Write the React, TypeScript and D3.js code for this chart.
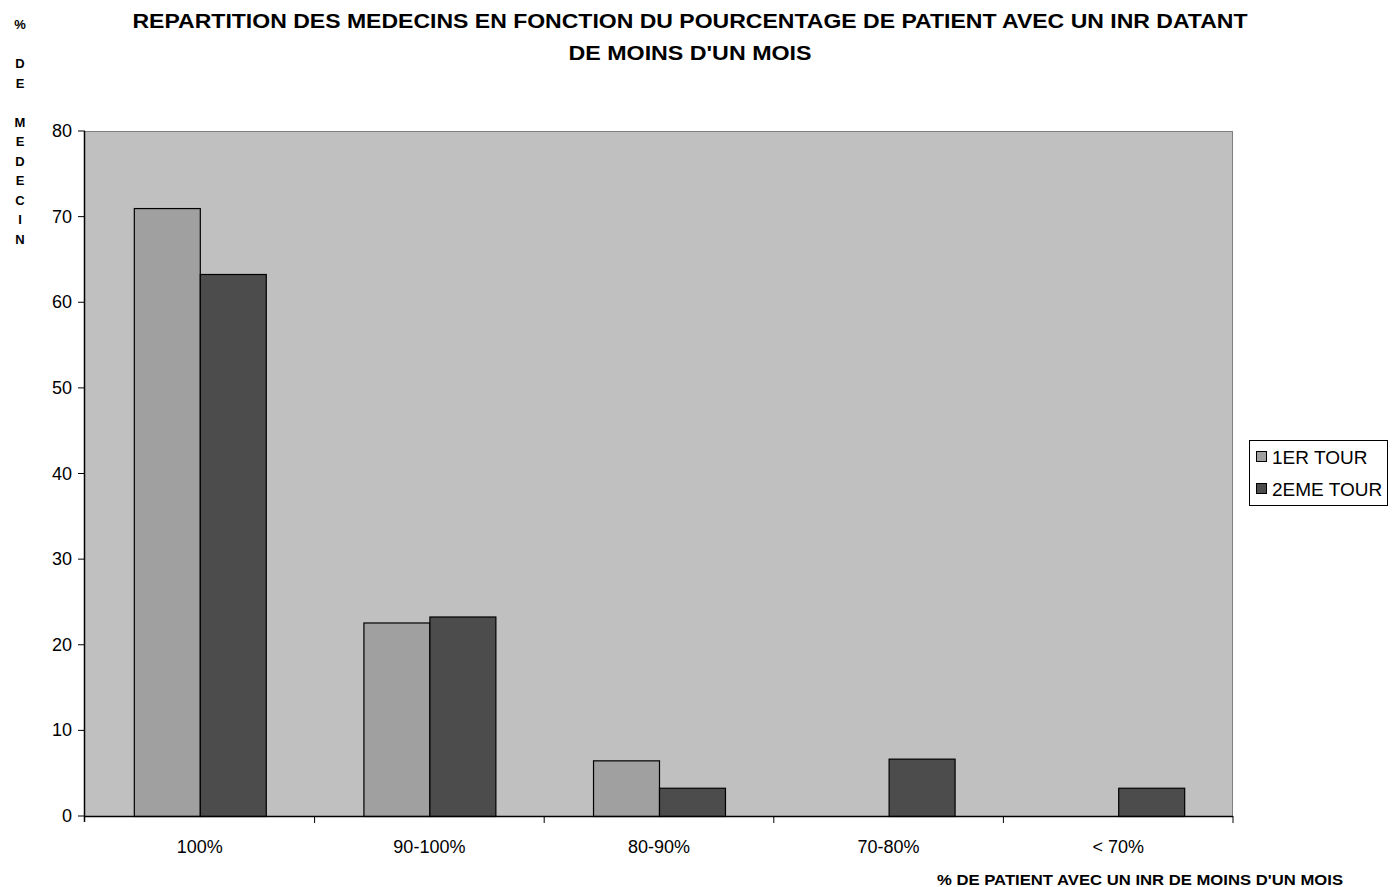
import React from "react";
import * as d3 from "d3";

const categories = ["100%", "90-100%", "80-90%", "70-80%", "< 70%"];
const seriesNames = ["1ER TOUR", "2EME TOUR"];
const tour1 = [71.0, 22.6, 6.5, 0, 0];
const tour2 = [63.3, 23.3, 3.3, 6.7, 3.3];
const yTicks = [0, 10, 20, 30, 40, 50, 60, 70, 80];
const titleLines = [
  "REPARTITION DES MEDECINS EN FONCTION DU POURCENTAGE DE PATIENT AVEC UN INR DATANT",
  "DE MOINS D'UN MOIS",
];
const titleWidths = [1115, 243];
const yTitleLines = ["%", "", "D", "E", "", "M", "E", "D", "E", "C", "I", "N"];
const xTitle = "% DE PATIENT AVEC UN INR DE MOINS D'UN MOIS";

const colors = ["#A0A0A0", "#4C4C4C"];
const W = 1394;
const H = 887;
const plot = { left: 85, right: 1233, top: 131, bottom: 816 };
const font = "'Liberation Sans', Arial, sans-serif";

export default function App() {
  const x0 = d3.scaleBand().domain(categories).range([plot.left, plot.right]).padding(0);
  const x1 = d3
    .scaleBand()
    .domain(seriesNames)
    .range([0, x0.bandwidth()])
    .paddingInner(0)
    .paddingOuter(0.74);
  const y = d3.scaleLinear().domain([0, 80]).range([plot.bottom, plot.top]);
  const data = [tour1, tour2];

  return (
    <svg
      width={W}
      height={H}
      style={{ position: "absolute", left: 0, top: 0, background: "#fff" }}
    >
      {/* title */}
      {titleLines.map((t, i) => (
        <text
          key={i}
          x={690}
          y={28 + i * 32}
          textAnchor="middle"
          fontFamily={font}
          fontWeight="bold"
          fontSize={21}
          textLength={titleWidths[i]}
          lengthAdjust="spacingAndGlyphs"
        >
          {t}
        </text>
      ))}
      {/* y title */}
      {yTitleLines.map((c, i) => (
        <text
          key={i}
          x={20}
          y={29 + i * 19.5}
          textAnchor="middle"
          fontFamily={font}
          fontWeight="900"
          fontSize={13}
        >
          {c}
        </text>
      ))}
      {/* plot area */}
      <rect
        x={plot.left}
        y={plot.top}
        width={plot.right - plot.left}
        height={plot.bottom - plot.top}
        fill="#C0C0C0"
      />
      <line x1={plot.left} x2={plot.right} y1={plot.top + 0.5} y2={plot.top + 0.5} stroke="#808080" />
      <line x1={plot.right - 0.5} x2={plot.right - 0.5} y1={plot.top} y2={plot.bottom} stroke="#808080" />
      {/* bars */}
      {data.map((vals, si) =>
        vals.map((v, ci) =>
          v > 0 ? (
            <rect
              key={`${si}-${ci}`}
              x={(x0(categories[ci]) as number) + (x1(seriesNames[si]) as number) + 0.5}
              y={y(v) + 0.5}
              width={x1.bandwidth()}
              height={y(0) - y(v)}
              fill={colors[si]}
              stroke="#000"
              strokeWidth={1.2}
            />
          ) : null
        )
      )}
      {/* y axis */}
      <line x1={plot.left - 0.5} x2={plot.left - 0.5} y1={plot.top} y2={plot.bottom + 6} stroke="#000" strokeWidth={1.5} />
      {yTicks.map((t) => (
        <g key={t}>
          <line x1={plot.left - 7} x2={plot.left} y1={y(t)} y2={y(t)} stroke="#000" />
          <text
            x={plot.left - 13}
            y={y(t) + 6}
            textAnchor="end"
            fontFamily={font}
            fontSize={18}
            fill="#000"
          >
            {t}
          </text>
        </g>
      ))}
      {/* x axis */}
      <line x1={plot.left} x2={plot.right} y1={plot.bottom + 0.5} y2={plot.bottom + 0.5} stroke="#000" strokeWidth={1.5} />
      {categories.map((c) => (
        <g key={c}>
          <line
            x1={(x0(c) as number) + x0.bandwidth()}
            x2={(x0(c) as number) + x0.bandwidth()}
            y1={plot.bottom}
            y2={plot.bottom + 7}
            stroke="#000"
          />
          <text
            x={(x0(c) as number) + x0.bandwidth() / 2}
            y={853}
            textAnchor="middle"
            fontFamily={font}
            fontSize={18}
            fill="#000"
          >
            {c}
          </text>
        </g>
      ))}
      <text
        x={1140}
        y={885}
        textAnchor="middle"
        fontFamily={font}
        fontWeight="900"
        fontSize={15}
        textLength={406}
        lengthAdjust="spacingAndGlyphs"
      >
        {xTitle}
      </text>
      {/* legend */}
      <rect x={1249.5} y={440.5} width={138} height={65} fill="#fff" stroke="#000" />
      {seriesNames.map((s, i) => (
        <g key={s}>
          <rect x={1256.5} y={451.5 + i * 32} width={10} height={10} fill={colors[i]} stroke="#000" />
          <text x={1272} y={464 + i * 32} fontFamily={font} fontSize={19} fill="#000">
            {s}
          </text>
        </g>
      ))}
    </svg>
  );
}
